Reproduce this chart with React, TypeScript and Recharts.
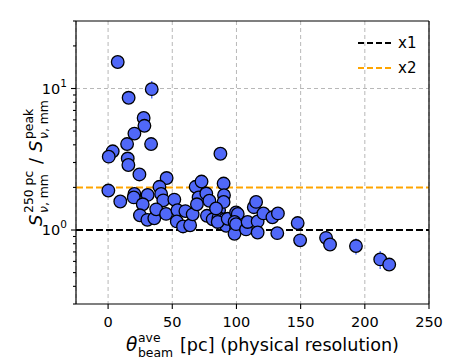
import { ScatterChart, Scatter, XAxis, YAxis, CartesianGrid, ReferenceLine, ErrorBar, Legend } from "recharts";

// average beam size [pc] and flux ratio S(250pc)/S(peak)
const beamPc = [
  7.5, 34, 16, 27.7, 28.3, 20.5, 14.8, 33.5, 3.6, 0.5,
  15.3, 15.8, 24.4, 45.6, 0.2, 9.5, 20.5, 20, 30.8, 27,
  40, 41.3, 43, 24.8, 30.6, 36, 37.5, 45.2, 51.6, 54,
  53.5, 58.4, 60.2, 63.9, 65.9, 68.2, 72.8, 70.5, 69.2, 76.5,
  78.9, 77, 81.5, 86.5, 86, 87.5, 90, 90.3, 90, 91,
  92, 84.1, 85.4, 93.2, 99.7, 101, 98.5, 99.7, 98.5, 99.7,
  107.5, 108.7, 113.5, 115.3, 116.5, 116.5, 121, 128, 132.3, 131.8,
  147.7, 149.6, 169.8, 172.9, 193.1, 212, 219,
];
const ratio = [
  15.4, 9.9, 8.6, 6.2, 5.45, 4.8, 4.05, 4.05, 3.6, 3.3,
  3.2, 2.88, 2.47, 2.33, 1.9, 1.59, 1.8, 1.7, 1.77, 1.52,
  2.02, 1.8, 1.62, 1.27, 1.18, 1.21, 1.4, 1.3, 1.64, 1.38,
  1.15, 1.06, 1.36, 1.08, 1.29, 2.02, 2.2, 1.7, 1.52, 1.81,
  1.61, 1.26, 1.19, 1.38, 1.22, 3.46, 2.13, 1.76, 1.58, 1.19,
  1.07, 1.42, 1.14, 1.2, 1.33, 1.3, 1.14, 1.02, 0.94, 1.1,
  1.01, 1.14, 1.45, 1.58, 1.15, 0.96, 1.31, 1.23, 1.31, 0.95,
  1.12, 0.845, 0.88, 0.79, 0.77, 0.62, 0.57,
];
// only a few points show a visible error bar
const ratioErr = beamPc.map(() => 0);
ratioErr[1] = 1.4;
ratioErr[74] = 0.1;
ratioErr[75] = 0.09;

const xTicks = [0, 50, 100, 150, 200, 250];
const yMajor = [1, 10];
const yMinor = [0.3, 0.4, 0.5, 0.6, 0.7, 0.8, 0.9, 2, 3, 4, 5, 6, 7, 8, 9, 20, 30];
const refLevels = [1, 2];
const refLabels = ["x1", "x2"];
const refColors = ["#000000", "#ffa500"];

const data = beamPc.map((x, i) => ({ x, y: ratio[i], err: ratioErr[i] }));

const FONT = "DejaVu Sans, sans-serif";

const XTick = ({ x, y, payload }: any) => (
  <g>
    <line x1={x} x2={x} y1={y} y2={y + 5} stroke="#000" strokeWidth={1.1} />
    <text x={x} y={y + 23} textAnchor="middle" fontSize={14.5} fontFamily={FONT} fill="#000">
      {payload.value}
    </text>
  </g>
);

const YTick = ({ x, y, payload }: any) => {
  const v = payload.value;
  const major = yMajor.includes(v);
  return (
    <g>
      <line x1={x - (major ? 5 : 3)} x2={x} y1={y} y2={y} stroke="#000" strokeWidth={1.1} />
      {major && (
        <text x={x - 9} y={y + 5} textAnchor="end" fontSize={14.5} fontFamily={FONT} fill="#000">
          10<tspan dy={-7} fontSize={10.5}>{Math.round(Math.log10(v))}</tspan>
        </text>
      )}
    </g>
  );
};

// stacked super/subscripts laid out by hand
const YLabel = () => (
  <g transform="translate(42, 164) rotate(-90)" fontFamily={FONT} fill="#000">
    <text x={-62} y={0} fontSize={18} fontStyle="italic">S</text>
    <text x={-49} y={-9} fontSize={12.4}>250 pc</text>
    <text x={-49} y={6} fontSize={12.4}><tspan fontStyle="italic">ν</tspan>, mm</text>
    <text x={0} y={0} fontSize={18}>/</text>
    <text x={12} y={0} fontSize={18} fontStyle="italic">S</text>
    <text x={25} y={-9} fontSize={12.4}>peak</text>
    <text x={25} y={6} fontSize={12.4}><tspan fontStyle="italic">ν</tspan>, mm</text>
  </g>
);

const XLabel = () => (
  <g transform="translate(126, 351)" fontFamily={FONT} fill="#000">
    <text x={0} y={0} fontSize={18.5} fontStyle="italic">θ</text>
    <text x={12} y={-9} fontSize={12.4}>ave</text>
    <text x={12} y={6} fontSize={12.4}>beam</text>
    <text x={54} y={0} fontSize={17.6}>[pc] (physical resolution)</text>
  </g>
);

const LegendBox = () => (
  <svg width={80} height={55} style={{ display: "block" }}>
    {refLabels.map((lab, i) => (
      <g key={lab}>
        <line x1={8} x2={43} y1={15 + i * 25} y2={15 + i * 25} stroke={refColors[i]} strokeWidth={2} strokeDasharray="6 3" />
        <text x={48} y={20 + i * 25} fontSize={15} fontFamily={FONT} fill="#000">{lab}</text>
      </g>
    ))}
  </svg>
);

export default function App() {
  return (
    <div style={{ position: "absolute", left: 0, top: 0, width: 452, height: 362 }}>
      <ScatterChart width={452} height={362} margin={{ top: 21, right: 23, bottom: 0, left: 26 }}>
        <CartesianGrid horizontal={false} stroke="#b0b0b0" strokeDasharray="4 3" strokeWidth={0.9} />
        <XAxis
          type="number"
          dataKey="x"
          domain={[-25, 250]}
          allowDataOverflow
          ticks={xTicks}
          interval={0}
          height={58}
          tickSize={0}
          tickMargin={0}
          tickLine={false}
          tick={<XTick />}
          axisLine={{ stroke: "#000", strokeWidth: 1.2 }}
          label={<XLabel />}
        />
        <YAxis
          type="number"
          dataKey="y"
          scale="log"
          domain={[0.3, 30]}
          allowDataOverflow
          ticks={[...yMajor, ...yMinor]}
          interval={0}
          width={50}
          tickSize={0}
          tickMargin={0}
          tickLine={false}
          tick={<YTick />}
          axisLine={{ stroke: "#000", strokeWidth: 1.2 }}
          label={<YLabel />}
        />
        <ReferenceLine y={10} stroke="#b0b0b0" strokeDasharray="4 3" strokeWidth={0.9} />
        {refLevels.map((lv, i) => (
          <ReferenceLine key={lv} y={lv} stroke={refColors[i]} strokeWidth={2} strokeDasharray="7 3" />
        ))}
        <ReferenceLine x={250} stroke="#000" strokeWidth={1.2} />
        <ReferenceLine y={30} stroke="#000" strokeWidth={1.2} />
        <Legend
          layout="vertical"
          align="center"
          verticalAlign="middle"
          content={<LegendBox />}
          wrapperStyle={{ position: "absolute", left: 350, top: 28, width: 80, height: 55 }}
        />
        <Scatter
          data={data}
          isAnimationActive={false}
          shape={(p: any) => (
            <circle cx={p.cx} cy={p.cy} r={6.3} fill="#5068f8" stroke="#000" strokeWidth={1.3} />
          )}
        >
          <ErrorBar dataKey="err" direction="y" width={0} stroke="#5a78ff" strokeWidth={1.5} />
        </Scatter>
      </ScatterChart>
    </div>
  );
}
